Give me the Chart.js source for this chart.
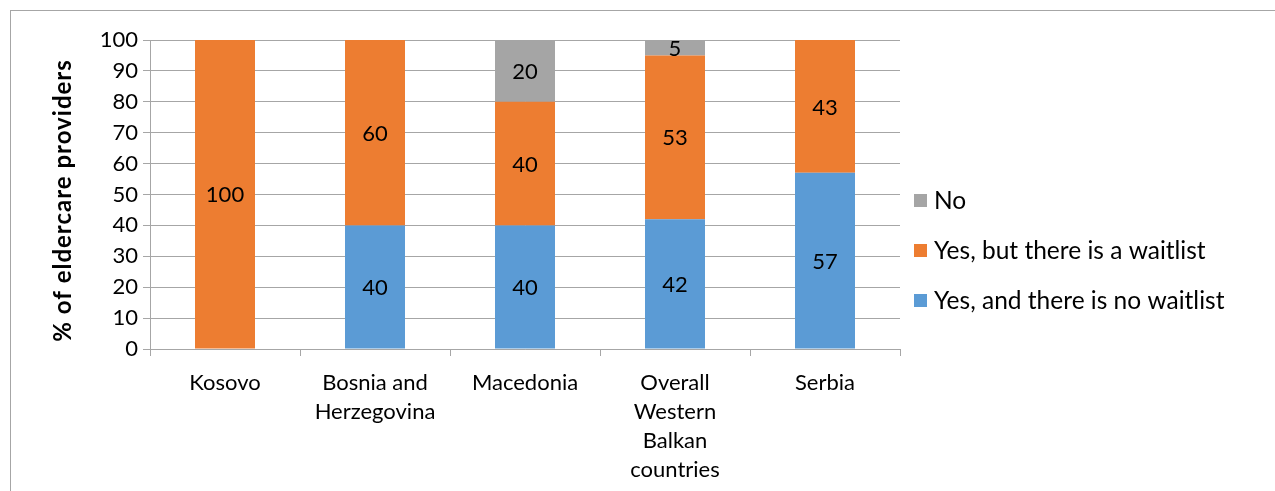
<!DOCTYPE html>
<html><head><meta charset="utf-8">
<script src="https://cdn.jsdelivr.net/npm/chart.js@4/dist/chart.umd.min.js"></script>
<style>
html,body{margin:0;padding:0;background:#fff;}
#wrap{position:relative;width:1275px;height:491px;overflow:hidden;}
#frame{position:absolute;left:10px;top:10px;width:1300px;height:500px;border-left:1.5px solid #a6a6a6;border-top:1.5px solid #a6a6a6;}
canvas{position:absolute;left:0;top:0;}
</style></head><body>
<div id="wrap"><div id="frame"></div><canvas id="c" width="1275" height="491"></canvas></div>
<script>
const categories = [["Kosovo"],["Bosnia and","Herzegovina"],["Macedonia"],["Overall","Western","Balkan","countries"],["Serbia"]];
const noWaitlist = [null, 40, 40, 42, 57];
const withWaitlist = [100, 60, 40, 53, 43];
const noAccess = [null, null, 20, 5, null];
const seriesNames = ["Yes, and there is no waitlist","Yes, but there is a waitlist","No"];
const yTicks = [0,10,20,30,40,50,60,70,80,90,100];
const axisTitle = "% of eldercare providers";
const FONT = "Lato, 'Open Sans', sans-serif";

const labelPlugin = {
  id:'vals',
  afterDatasetsDraw(chart){
    const ctx = chart.ctx;
    ctx.save();
    ctx.font = "22px " + FONT;
    ctx.fillStyle = "#000";
    ctx.textAlign = "center"; ctx.textBaseline = "middle";
    chart.data.datasets.forEach((ds,i)=>{
      const meta = chart.getDatasetMeta(i);
      meta.data.forEach((bar,j)=>{
        const v = ds.data[j];
        if(v==null) return;
        const p = bar.getProps(['x','y','base'],true);
        ctx.fillText(String(v), p.x, (p.y+p.base)/2 + 1);
      });
    });
    ctx.restore();
  }
};
const legendPlugin = {
  id:'leg',
  afterDraw(chart){
    const ctx = chart.ctx, a = chart.chartArea;
    ctx.save();
    ctx.font = "24.5px " + FONT;
    ctx.textBaseline = "middle"; ctx.textAlign = "left";
    const order = [2,1,0];
    order.forEach((di,k)=>{
      const ds = chart.data.datasets[di];
      const y = a.top + 160 + k*50;
      ctx.fillStyle = ds.backgroundColor;
      ctx.fillRect(a.right + 14, y-6, 13, 13);
      ctx.fillStyle = "#000";
      ctx.fillText(ds.label, a.right + 34, y+1);
    });
    // y-axis title
    ctx.font = "bold 24px " + FONT;
    try { ctx.letterSpacing = "1px"; } catch(e){}
    ctx.textAlign = "center";
    ctx.translate(63, (a.top + a.bottom)/2 + 6);
    ctx.rotate(-Math.PI/2);
    ctx.fillText(axisTitle, 0, 0);
    ctx.restore();
  }
};

new Chart(document.getElementById('c'), {
  type:'bar',
  data:{
    labels: categories,
    datasets:[
      {label:seriesNames[0], data:noWaitlist, backgroundColor:'#5B9BD5'},
      {label:seriesNames[1], data:withWaitlist, backgroundColor:'#ED7D31'},
      {label:seriesNames[2], data:noAccess, backgroundColor:'#A5A5A5'}
    ]
  },
  options:{
    responsive:false, animation:false,
    layout:{padding:{top:40,right:375,left:0,bottom:0}},
    datasets:{bar:{barPercentage:0.4,categoryPercentage:1}},
    plugins:{legend:{display:false},tooltip:{enabled:false}},
    scales:{
      x:{stacked:true,
        grid:{offset:true,drawOnChartArea:false,color:'#a6a6a6',tickLength:7,lineWidth:1},
        border:{color:'#a6a6a6'},
        ticks:{color:'#000',font:{family:FONT,size:22,lineHeight:1.32},padding:12,maxRotation:0,autoSkip:false},
        afterFit(s){s.height = 142;}
      },
      y:{stacked:true,min:0,max:100,
        afterBuildTicks(s){s.ticks = yTicks.map(v=>({value:v}));},
        grid:{color:'#a6a6a6',tickLength:7,lineWidth:1},
        border:{color:'#a6a6a6'},
        ticks:{color:'#000',font:{family:FONT,size:22},padding:5},
        afterFit(s){s.width = 150;}
      }
    }
  },
  plugins:[labelPlugin, legendPlugin]
});
</script>
</body></html>
